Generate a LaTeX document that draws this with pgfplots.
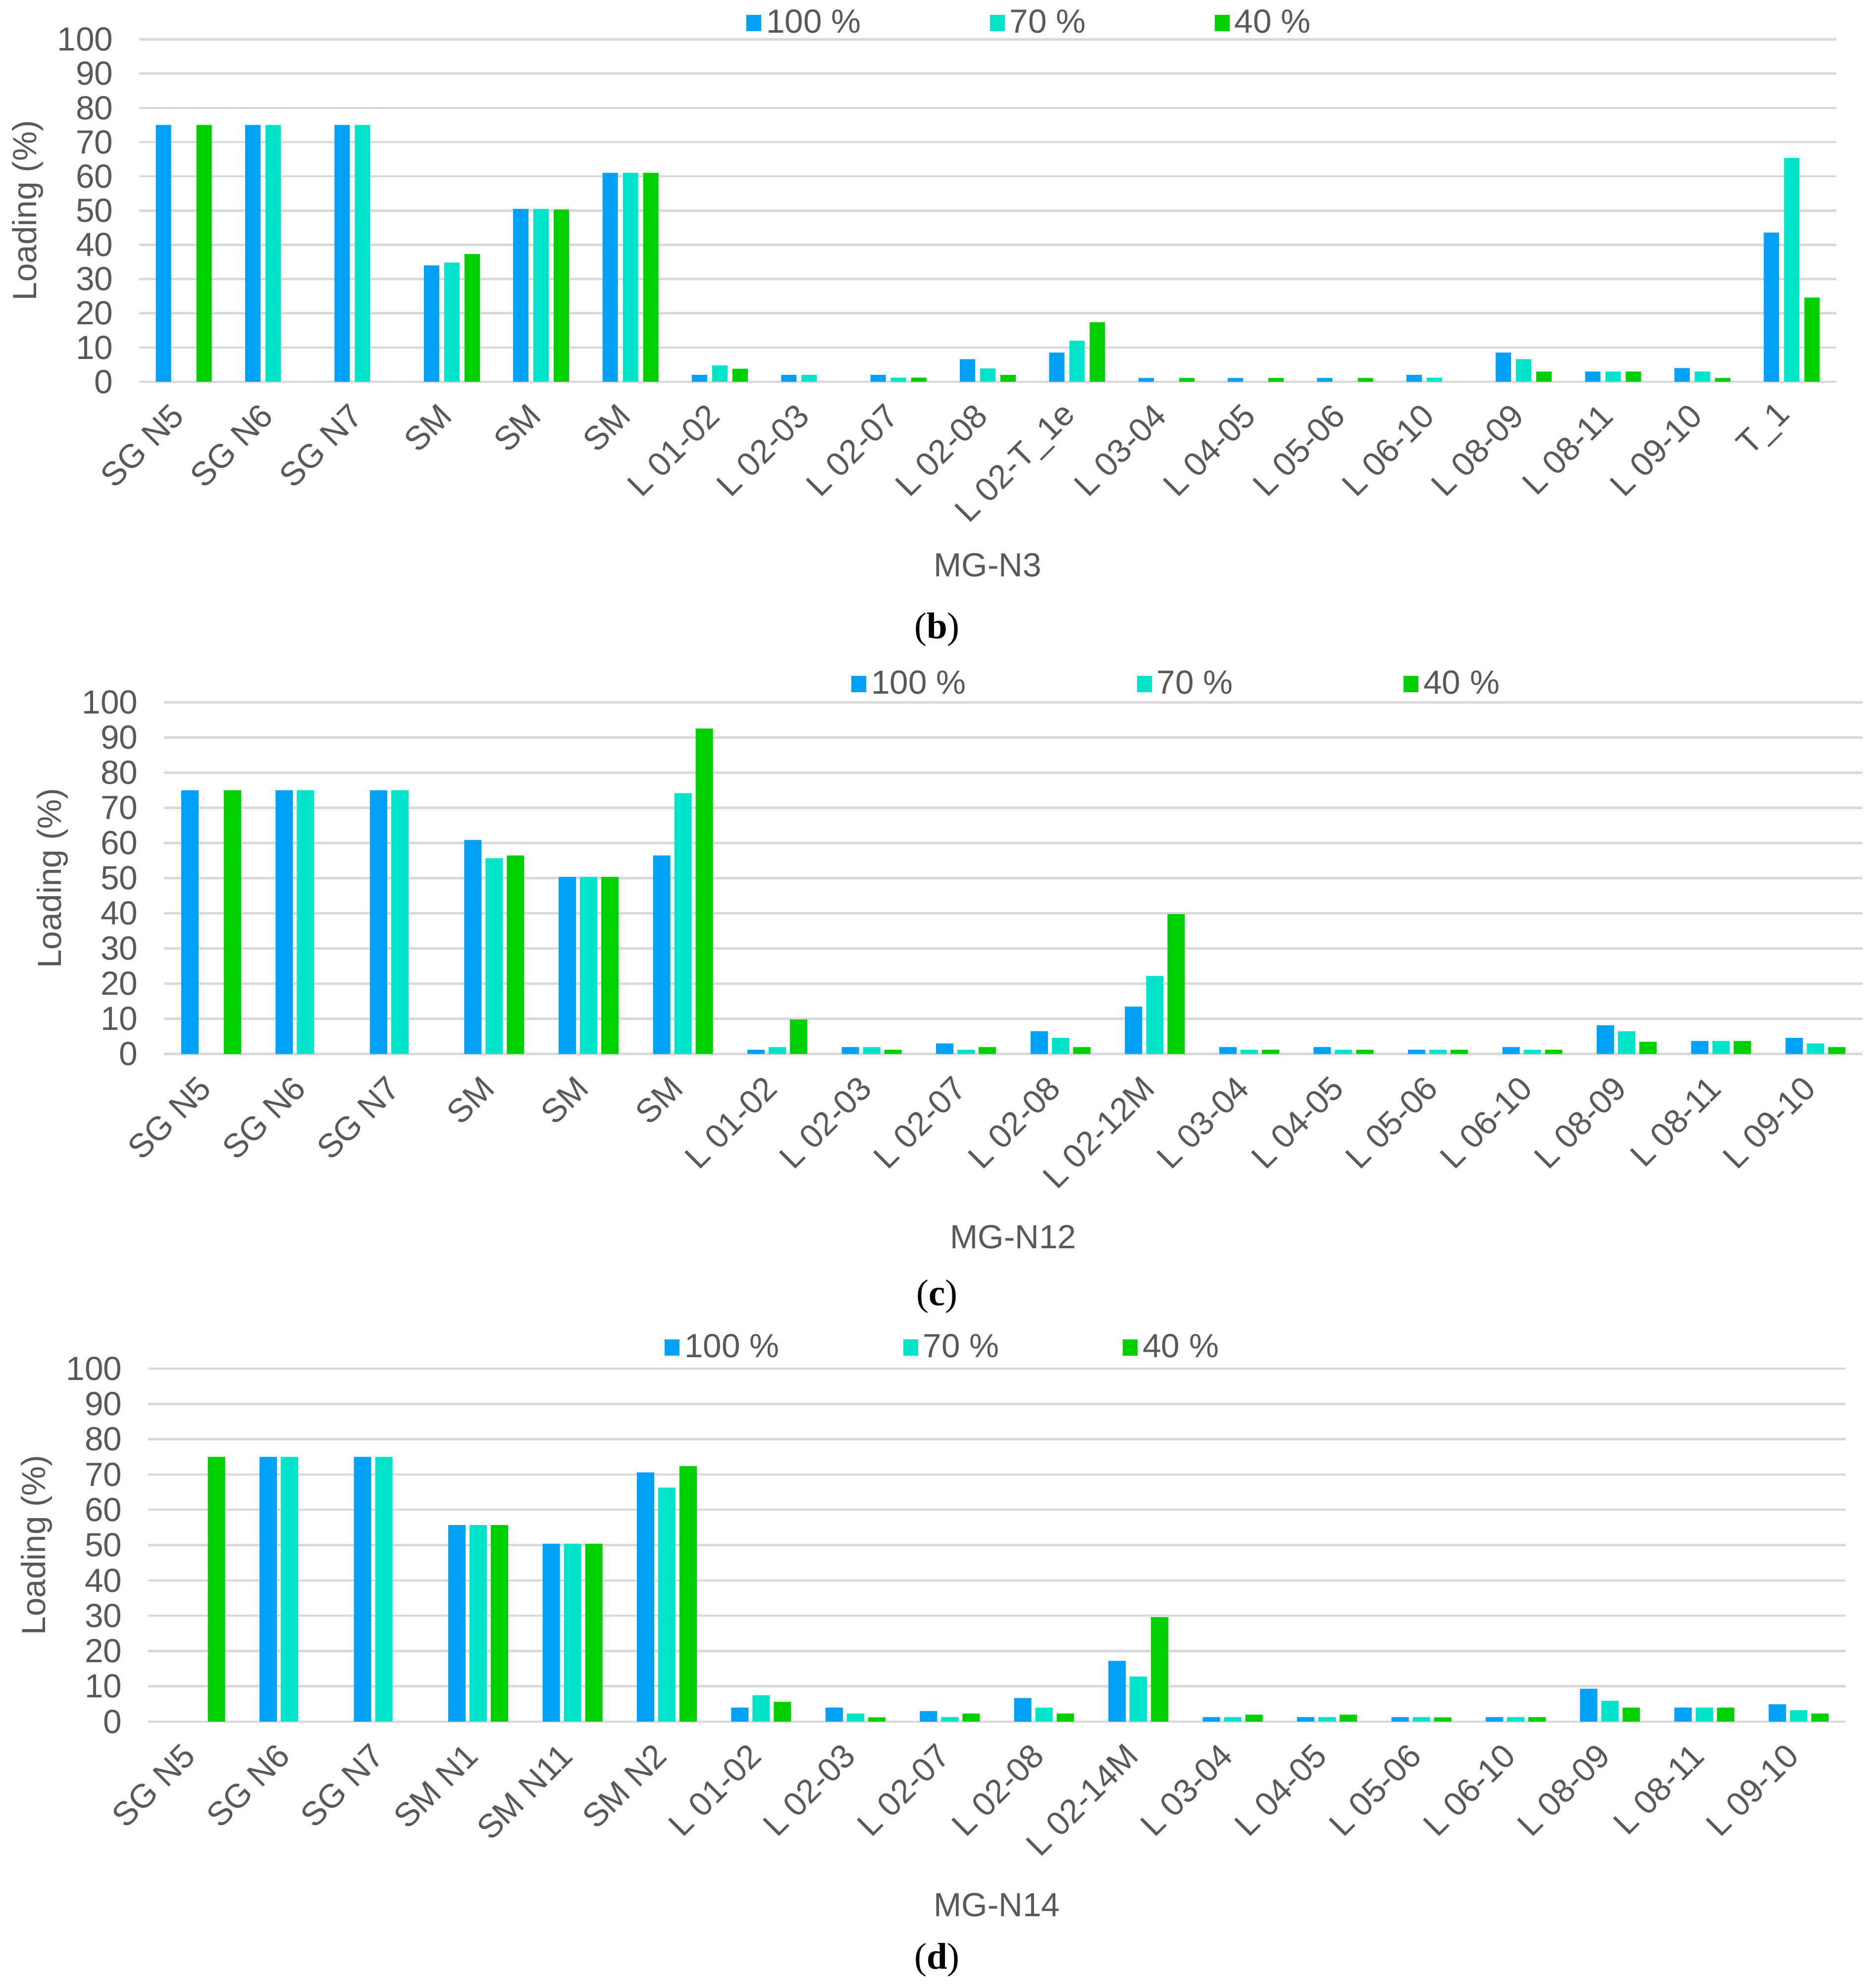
\documentclass[border=0pt]{standalone}
\usepackage{fontspec}
\setmainfont{Liberation Sans}
\newfontfamily\capfont{Liberation Serif}
\usepackage{pgfplots}
\pgfplotsset{compat=1.18}
\definecolor{c100}{HTML}{00A2F8}
\definecolor{c70}{HTML}{00E5C9}
\definecolor{c40}{HTML}{00D000}
\definecolor{txt}{HTML}{595959}
\definecolor{grd}{HTML}{D9D9D9}
\newcommand\lbl{\fontsize{13.5}{16}\selectfont}
\pgfplotsset{
  sqleg/.style={legend image code/.code={\fill[##1] (0pt,-3.3pt) rectangle (6pt,3.3pt);}},
  panel/.style={
    scale only axis, anchor=south west,
    ymin=0, ymax=100, ytick={0,10,...,100},
    ymajorgrids, grid style={line width=0.9pt, grd},
    axis line style={draw=none}, major tick length=0pt,
    tick label style={font=\lbl, text=txt},
    /pgf/number format/assume math mode=true,
    yticklabel style={xshift=-7pt},
    x tick label style={yshift=-9pt, rotate=45, anchor=east},
    xmin=-0.5,
    ylabel={Loading (\%)},
    every axis y label/.style={at={(axis description cs:0,0.5)}, xshift=-45pt, rotate=90, anchor=center, font=\lbl, text=txt},
    every axis x label/.style={at={(axis description cs:0.5,0)}, yshift=-74pt, anchor=center, font=\lbl, text=txt},
    legend style={draw=none, fill=none, font=\lbl\color{txt}, legend columns=3, anchor=center},
    legend cell align=left,
    every axis plot post/.append style={sqleg},
  }
}
\begin{document}
\begin{tikzpicture}
\path[use as bounding box] (0,0) rectangle (757.2pt,-803pt);

% ---------- (b) MG-N3 ----------
\begin{axis}[panel, at={(56.2pt,-154.2pt)}, width=685.4pt, height=138.3pt,
  ybar=2pt, bar width=6.2pt,
  xmax=18.5, xtick={0,...,18},
  xticklabels={SG N5,SG N6,SG N7,SM,SM,SM,L 01-02,L 02-03,L 02-07,L 02-08,L 02-T\_1e,L 03-04,L 04-05,L 05-06,L 06-10,L 08-09,L 08-11,L 09-10,T\_1},
  xlabel={MG-N3},
  legend style={at={(axis description cs:0.5255,1.048)}, /tikz/every even column/.append style={column sep=50pt}},
]
\addplot[fill=c100, draw=none] coordinates {(0,75) (1,75) (2,75) (3,34) (4,50.5) (5,61) (6,2) (7,2) (8,2) (9,6.6) (10,8.5) (11,1.1) (12,1.1) (13,1.1) (14,2) (15,8.5) (16,3) (17,4) (18,43.6)};
\addplot[fill=c70, draw=none] coordinates {(1,75) (2,75) (3,34.8) (4,50.5) (5,61) (6,4.8) (7,2) (8,1.2) (9,3.9) (10,12) (14,1.2) (15,6.6) (16,3) (17,3) (18,65.4)};
\addplot[fill=c40, draw=none] coordinates {(0,75) (3,37.3) (4,50.3) (5,61) (6,3.8) (8,1.2) (9,2) (10,17.4) (11,1.1) (12,1.1) (13,1.1) (15,3) (16,3) (17,1.1) (18,24.6)};
\legend{100 \%,70 \%,40 \%}
\end{axis}

% ---------- (c) MG-N12 ----------
\begin{axis}[panel, at={(66.2pt,-425.74pt)}, width=686pt, height=142pt,
  ybar=1.6pt, bar width=7pt,
  xmax=17.5, xtick={0,...,17},
  xticklabels={SG N5,SG N6,SG N7,SM,SM,SM,L 01-02,L 02-03,L 02-07,L 02-08,L 02-12M,L 03-04,L 04-05,L 05-06,L 06-10,L 08-09,L 08-11,L 09-10},
  xlabel={MG-N12},
  legend style={at={(axis description cs:0.597,1.052)}, /tikz/every even column/.append style={column sep=67pt}},
]
\addplot[fill=c100, draw=none] coordinates {(0,75) (1,75) (2,75) (3,60.9) (4,50.4) (5,56.5) (6,1.2) (7,2) (8,3) (9,6.5) (10,13.5) (11,2) (12,2) (13,1.2) (14,2) (15,8.2) (16,3.7) (17,4.6)};
\addplot[fill=c70, draw=none] coordinates {(1,75) (2,75) (3,55.7) (4,50.4) (5,74.2) (6,2) (7,2) (8,1.2) (9,4.6) (10,22.2) (11,1.2) (12,1.2) (13,1.2) (14,1.2) (15,6.5) (16,3.7) (17,3)};
\addplot[fill=c40, draw=none] coordinates {(0,75) (3,56.5) (4,50.4) (5,92.6) (6,9.8) (7,1.2) (8,2) (9,2) (10,39.8) (11,1.2) (12,1.2) (13,1.2) (14,1.2) (15,3.5) (16,3.7) (17,2)};
\legend{100 \%,70 \%,40 \%}
\end{axis}

% ---------- (d) MG-N14 ----------
\begin{axis}[panel, at={(59.8pt,-695.4pt)}, width=685.6pt, height=142.6pt,
  ybar=1.6pt, bar width=7pt,
  xmax=17.5, xtick={0,...,17},
  xticklabels={SG N5,SG N6,SG N7,SM N1,SM N11,SM N2,L 01-02,L 02-03,L 02-07,L 02-08,L 02-14M,L 03-04,L 04-05,L 05-06,L 06-10,L 08-09,L 08-11,L 09-10},
  xlabel={MG-N14},
  legend style={at={(axis description cs:0.469,1.06)}, /tikz/every even column/.append style={column sep=48pt}},
]
\addplot[fill=c100, draw=none] coordinates {(1,75) (2,75) (3,55.7) (4,50.4) (5,70.6) (6,4) (7,4) (8,3) (9,6.7) (10,17.2) (11,1.3) (12,1.3) (13,1.3) (14,1.3) (15,9.3) (16,4) (17,4.9)};
\addplot[fill=c70, draw=none] coordinates {(1,75) (2,75) (3,55.7) (4,50.4) (5,66.3) (6,7.5) (7,2.3) (8,1.3) (9,4) (10,12.8) (11,1.3) (12,1.3) (13,1.3) (14,1.3) (15,5.9) (16,4) (17,3.2)};
\addplot[fill=c40, draw=none] coordinates {(0,75) (3,55.7) (4,50.4) (5,72.4) (6,5.6) (7,1.2) (8,2.3) (9,2.3) (10,29.6) (11,2) (12,2) (13,1.2) (14,1.3) (15,4) (16,4) (17,2.3)};
\legend{100 \%,70 \%,40 \%}
\end{axis}

\node[font=\capfont\fontsize{15}{18}\selectfont] at (378.4pt,-254.2pt) {(\textbf{b})};
\node[font=\capfont\fontsize{15}{18}\selectfont] at (378.4pt,-523.6pt) {(\textbf{c})};
\node[font=\capfont\fontsize{15}{18}\selectfont] at (378.4pt,-791.6pt) {(\textbf{d})};
\end{tikzpicture}
\end{document}
